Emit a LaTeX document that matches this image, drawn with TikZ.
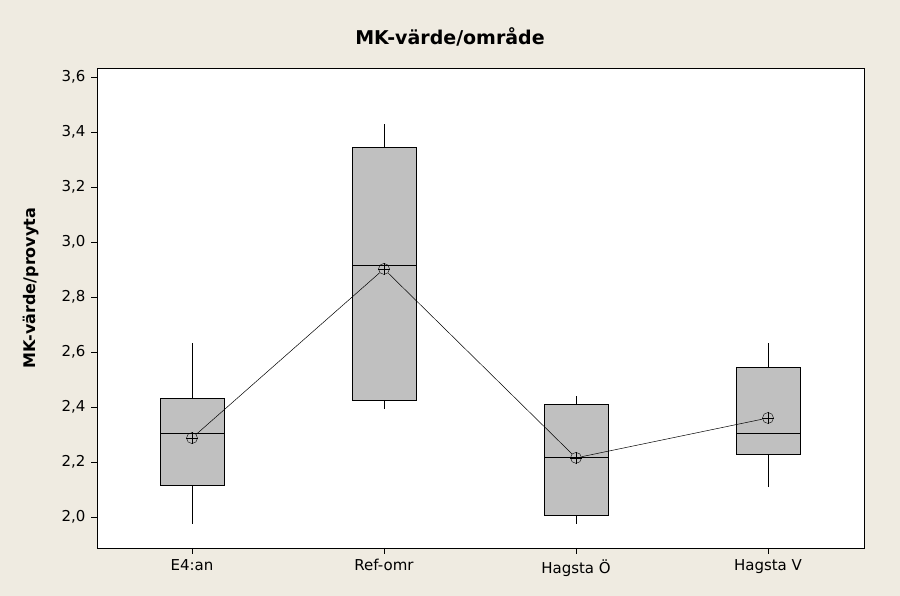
\documentclass[tikz,border=0pt]{standalone}
\usepackage{fontspec}
\setmainfont{DejaVu Sans}
\usetikzlibrary{positioning}
\definecolor{bgbeige}{HTML}{EFEBE1}
\definecolor{boxgray}{HTML}{C0C0C0}
\tikzset{
  boxpart/.style={draw=black, fill=boxgray, line width=0.6pt},
  meanmark/.style={circle, draw, inner sep=0pt, minimum size=11pt},
  ticklbl/.style={font=\fontsize{15}{18}\selectfont},
}
\newcommand{\boxplotat}[6]{% x, lowwhisk, q1, median, q3, highwhisk
  \draw[line width=0.6pt] (#1,#2) -- (#1,#3) (#1,#5) -- (#1,#6);
  \draw[boxpart] (#1-32,#3) rectangle (#1+32,#5);
  \draw[line width=0.6pt] (#1-32,#4) -- (#1+32,#4);
}
\begin{document}
\begin{tikzpicture}[x=1pt,y=1pt]
  \fill[bgbeige] (0,0) rectangle (900,596);
  \useasboundingbox (0,0) rectangle (900,596);
  \draw[fill=white, line width=0.5pt] (97,48) rectangle (864,528);
  \node[font=\bfseries\fontsize{19}{22}\selectfont] (title) at (450,559) {MK-värde/område};
  \node[font=\bfseries\fontsize{16}{18}\selectfont, rotate=90] (ylab) at (31,308) {MK-värde/provyta};
  \begin{scope}[y=275pt, yshift=-471pt]
    % y axis
    \foreach \v/\t in {2.0/{2,0},2.2/{2,2},2.4/{2,4},2.6/{2,6},2.8/{2,8},3.0/{3,0},3.2/{3,2},3.4/{3,4},3.6/{3,6}}{
      \draw[line width=0.5pt] (91,\v) -- (97,\v);
      \node[ticklbl, anchor=east] at (89,\v) {\t};
    }
    % boxes
    \boxplotat{192}{1.975}{2.116}{2.305}{2.433}{2.633}
    \boxplotat{384}{2.393}{2.425}{2.916}{3.345}{3.429}
    \boxplotat{576}{1.975}{2.007}{2.218}{2.411}{2.44}
    \boxplotat{768}{2.109}{2.229}{2.305}{2.545}{2.633}
    % means
    \node[meanmark] (m1) at (192,2.287) {};
    \node[meanmark] (m2) at (384,2.902) {};
    \node[meanmark] (m3) at (576,2.215) {};
    \node[meanmark] (m4) at (768,2.36) {};
    \foreach \m in {m1,m2,m3,m4}
      \draw[line width=0.5pt] (\m.north) -- (\m.south) (\m.west) -- (\m.east);
    \draw[line width=0.5pt] (m1) -- (m2) -- (m3) -- (m4);
  \end{scope}
  % x axis
  \foreach \x/\t in {192/E4:an,384/Ref-omr,576/Hagsta Ö,768/Hagsta V}{
    \draw[line width=0.5pt] (\x,48) -- (\x,42);
    \node[ticklbl, anchor=north] at (\x,40) {\t};
  }
\end{tikzpicture}
\end{document}
